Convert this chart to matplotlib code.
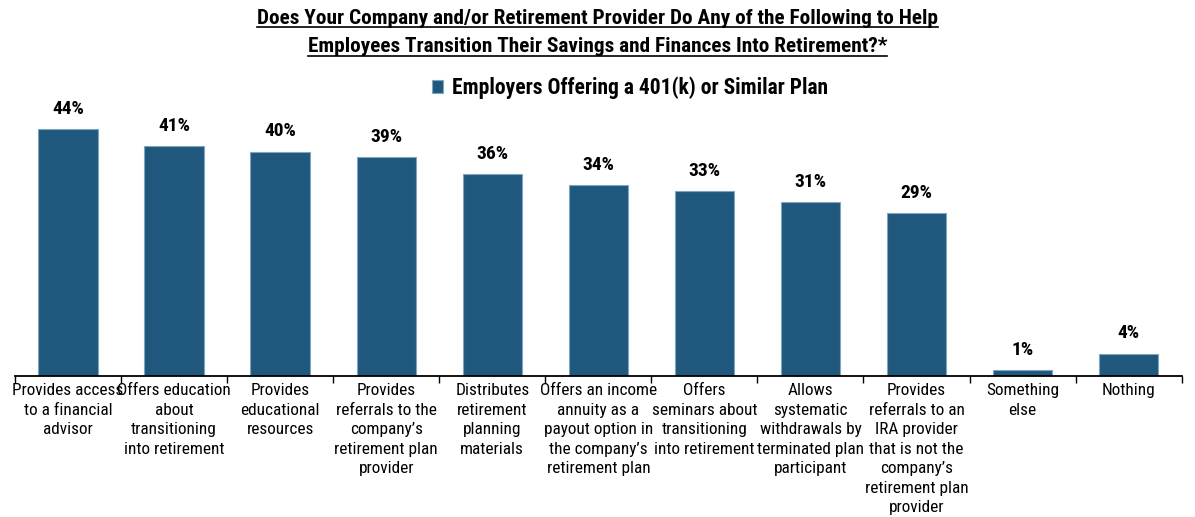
import matplotlib.pyplot as plt
import numpy as np
from matplotlib import font_manager

categories = [
    "Provides access\nto a financial\nadvisor",
    "Offers education\nabout\ntransitioning\ninto retirement",
    "Provides\neducational\nresources",
    "Provides\nreferrals to the\ncompany\u2019s\nretirement plan\nprovider",
    "Distributes\nretirement\nplanning\nmaterials",
    "Offers an income\nannuity as a\npayout option in\nthe company\u2019s\nretirement plan",
    "Offers\nseminars about\ntransitioning\ninto retirement",
    "Allows\nsystematic\nwithdrawals by\nterminated plan\nparticipant",
    "Provides\nreferrals to an\nIRA provider\nthat is not the\ncompany\u2019s\nretirement plan\nprovider",
    "Something\nelse",
    "Nothing",
]
values = [44, 41, 40, 39, 36, 34, 33, 31, 29, 1, 4]
series_name = "Employers Offering a 401(k) or Similar Plan"

names = {f.name for f in font_manager.fontManager.ttflist}
family = "Liberation Sans Narrow" if "Liberation Sans Narrow" in names else "Roboto Condensed" if "Roboto Condensed" in names else "Liberation Sans"
plt.rcParams['font.family'] = [family, 'DejaVu Sans']

bar_color = "#1f587c"
fig = plt.figure(figsize=(11.95, 5.17), dpi=100)
ax = fig.add_axes([0.0126, 0.2727, 0.9762, 0.5426])

x = np.arange(len(values))
bars = ax.bar(x, values, width=0.56, color=bar_color, edgecolor="#7fa6c0",
              linewidth=0.8, label=series_name)
for xi, v in zip(x, values):
    ax.text(xi, v + 2.0, f"{v}%", ha="center", va="bottom", fontsize=14,
            fontweight="bold")

ax.set_xlim(-0.5, len(values) - 0.5)
ax.set_ylim(0, 50)
ax.set_yticks([])
for s in ["left", "right", "top"]:
    ax.spines[s].set_visible(False)
ax.spines["bottom"].set_linewidth(1.3)

# ticks sit on the category boundaries, labels under the bar centres
ax.set_xticks(np.arange(len(values) + 1) - 0.5)
ax.set_xticklabels([])
ax.tick_params(axis="x", length=5, width=1)
ax.set_xticks(x, minor=True)
ax.set_xticklabels(categories, minor=True, fontsize=12.4, linespacing=1.38)
ax.tick_params(axis="x", which="minor", length=0, pad=5)

fig.text(0.5, 0.965, "Does Your Company and/or Retirement Provider Do Any of the Following to Help",
         ha="center", va="center", fontsize=15.3, fontweight="bold")
fig.text(0.5, 0.91, "Employees Transition Their Savings and Finances Into Retirement?*",
         ha="center", va="center", fontsize=15.3, fontweight="bold")
# underline the two title lines
fig.canvas.draw()
r = fig.canvas.get_renderer()
for t in fig.texts:
    bb = t.get_window_extent(r).transformed(fig.transFigure.inverted())
    fig.add_artist(plt.Line2D([bb.x0, bb.x1], [bb.y0 + 0.001, bb.y0 + 0.001],
                              transform=fig.transFigure, color="black", linewidth=1.2))

fig.legend(handles=[bars], labels=[series_name], loc="center",
           bbox_to_anchor=(0.527, 0.83), frameon=False,
           prop={"weight": "bold", "size": 15.5}, handlelength=0.55,
           handleheight=0.55, handletextpad=0.4)

fig.savefig("out.png", dpi=100)
